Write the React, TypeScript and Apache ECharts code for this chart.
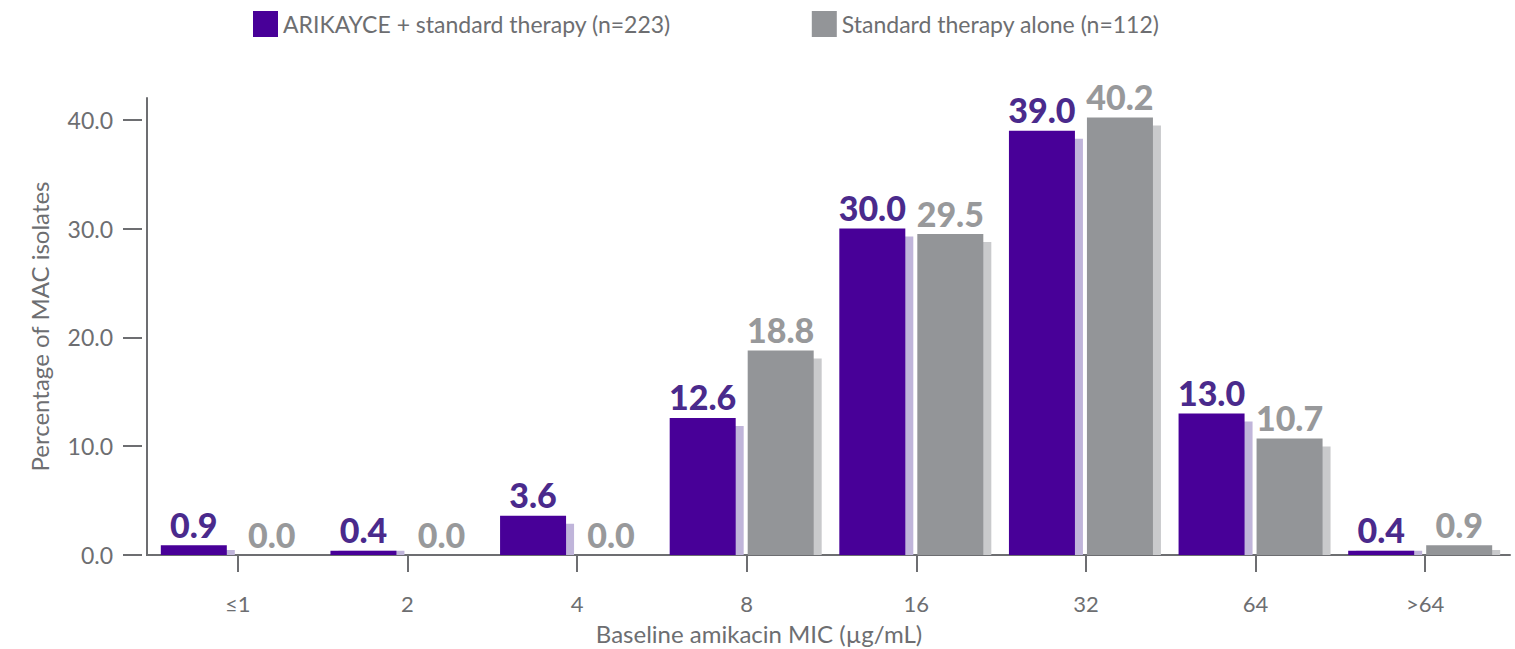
import React, { useEffect, useRef } from "react";
import * as echarts from "echarts";

const categories = ["≤1", "2", "4", "8", "16", "32", "64", ">64"];
const arikayceValues = [0.9, 0.4, 3.6, 12.6, 30.0, 39.0, 13.0, 0.4];
const standardValues = [0.0, 0.0, 0.0, 18.8, 29.5, 40.2, 10.7, 0.9];
const yTicks = [0, 10, 20, 30, 40];
const seriesNames = ["ARIKAYCE + standard therapy (n=223)", "Standard therapy alone (n=112)"];

const FONT = "Lato, 'Noto Sans', sans-serif";
const AXIS_COLOR = "#6d6e71";

function makeRender(offsetX: number, color: string, shadowColor: string, labelColor: string) {
  return (params: any, api: any) => {
    const idx = api.value(0);
    const val = api.value(1);
    const top = api.coord([idx, val]);
    const base = api.coord([idx, 0]);
    const cx = top[0];
    const x0 = cx + offsetX;
    const w = 66;
    const h = base[1] - top[1];
    const sh = Math.max(h - 8, Math.min(h, 5));
    const children: any[] = [];
    if (sh > 0) {
      children.push({
        type: "rect",
        shape: { x: x0 + 8, y: base[1] - sh, width: w, height: sh },
        style: { fill: shadowColor },
      });
    }
    if (h > 0) {
      children.push({
        type: "rect",
        shape: { x: x0, y: top[1], width: w, height: h },
        style: { fill: color },
      });
    }
    children.push({
      type: "text",
      style: {
        text: val.toFixed(1),
        x: x0 + w / 2,
        y: top[1] - 4,
        align: "center",
        verticalAlign: "bottom",
        fill: labelColor,
        font: `900 34px ${FONT}`,
      },
    });
    return { type: "group", children };
  };
}

export default function App() {
  const ref = useRef<HTMLDivElement>(null);
  useEffect(() => {
    document.body.style.margin = "0";
    if (!ref.current) return;
    const chart = echarts.init(ref.current, null, { renderer: "svg" });
    const purpleData = arikayceValues.map((v, i) => [i, v]);
    const grayData = standardValues.map((v, i) => [i, v]);
    chart.setOption({
      animation: false,
      textStyle: { fontFamily: FONT },
      legend: {
        top: 11,
        left: 253,
        padding: 0,
        itemWidth: 25,
        itemHeight: 26,
        itemGap: 141,
        icon: "rect",
        textStyle: { fontSize: 23, color: AXIS_COLOR, fontFamily: FONT },
        data: seriesNames,
      },
      grid: { left: 153, right: 5, top: 98, bottom: 94 },
      xAxis: [
        {
          type: "category",
          data: categories,
          position: "bottom",
          axisLine: { show: true, lineStyle: { color: AXIS_COLOR, width: 2 } },
          axisTick: { show: false },
          axisLabel: { show: false },
        },
        {
          type: "category",
          data: categories,
          position: "bottom",
          offset: 7,
          axisLine: { show: false },
          axisTick: { show: true, alignWithLabel: true, length: 17, lineStyle: { color: AXIS_COLOR, width: 2 } },
          axisLabel: { show: true, margin: 30, fontSize: 22, color: AXIS_COLOR, fontFamily: FONT },
        },
      ],
      yAxis: [
        {
          type: "value",
          min: 0,
          max: 42,
          interval: 10,
          offset: 6,
          axisLine: { show: true, lineStyle: { color: AXIS_COLOR, width: 2 } },
          axisTick: { show: false },
          axisLabel: { show: false },
          splitLine: { show: false },
          name: "Percentage of MAC isolates",
          nameLocation: "middle",
          nameGap: 96,
          nameTextStyle: { fontSize: 24, color: AXIS_COLOR, fontFamily: FONT },
        },
        {
          type: "value",
          min: 0,
          max: 42,
          interval: 10,
          offset: 11,
          position: "left",
          axisLine: { show: false },
          axisTick: {
            show: true,
            length: 19,
            customValues: yTicks,
            lineStyle: { color: AXIS_COLOR, width: 2 },
          },
          axisLabel: {
            show: true,
            margin: 29,
            customValues: yTicks,
            formatter: (v: number) => v.toFixed(1),
            fontSize: 23,
            color: AXIS_COLOR,
            fontFamily: FONT,
          },
          splitLine: { show: false },
        },
      ],
      graphic: [
        {
          type: "line",
          shape: { x1: 146, y1: 555, x2: 154, y2: 555 },
          style: { stroke: AXIS_COLOR, lineWidth: 2 },
        },
        {
          type: "text",
          x: 759,
          y: 633,
          style: {
            text: "Baseline amikacin MIC (µg/mL)",
            align: "center",
            verticalAlign: "middle",
            fill: AXIS_COLOR,
            font: `24px ${FONT}`,
          },
        },
      ],
      series: [
        {
          name: seriesNames[0],
          type: "custom",
          xAxisIndex: 0,
          yAxisIndex: 0,
          itemStyle: { color: "#480098" },
          encode: { x: 0, y: 1 },
          data: purpleData,
          renderItem: makeRender(-77, "#480098", "#c0b5da", "#4a2a8c"),
        },
        {
          name: seriesNames[1],
          type: "custom",
          xAxisIndex: 0,
          yAxisIndex: 0,
          itemStyle: { color: "#939598" },
          encode: { x: 0, y: 1 },
          data: grayData,
          renderItem: makeRender(1, "#939598", "#c9cacc", "#98999b"),
        },
      ],
    });
    return () => chart.dispose();
  }, []);
  return <div ref={ref} style={{ width: 1515, height: 649 }} />;
}
